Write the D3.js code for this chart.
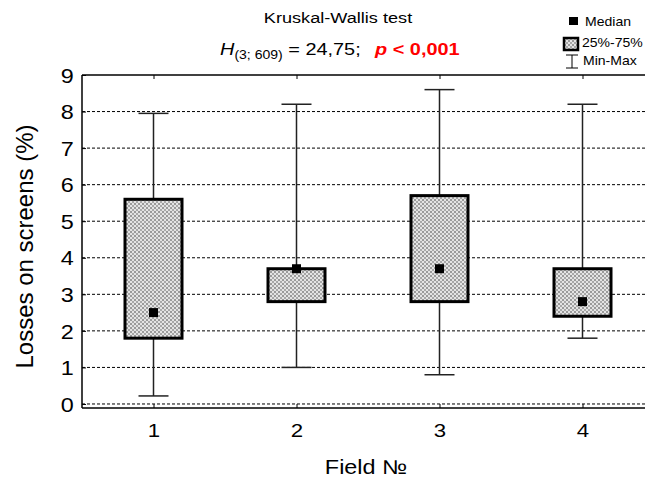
<!DOCTYPE html>
<html>
<head>
<meta charset="utf-8">
<script src="https://cdn.jsdelivr.net/npm/d3@7"></script>
<style>
  body { margin: 0; background: #fff; }
  svg { font-family: "Liberation Sans", Arial, sans-serif; display: block; }
</style>
</head>
<body>
<svg id="chart" width="645" height="480"></svg>
<script>
// box plot values
const fields = ['1', '2', '3', '4'];
const minVals = [0.22, 1.0, 0.8, 1.8];
const q1Vals = [1.8, 2.8, 2.8, 2.4];
const medians = [2.5, 3.7, 3.7, 2.8];
const q3Vals = [5.6, 3.7, 5.7, 3.7];
const maxVals = [7.95, 8.2, 8.6, 8.2];
const yTicks = [0, 1, 2, 3, 4, 5, 6, 7, 8, 9];

const data = fields.map((f, i) => ({
    field: f, min: minVals[i], q1: q1Vals[i], med: medians[i], q3: q3Vals[i], max: maxVals[i]
}));

const margin = { top: 75, left: 82 },
    plotW = 572,   // runs past the right edge of the picture, as in the original
    plotH = 333;

// the original text is a bit wider than normal Arial
const stretch = 1.17;

const svg = d3.select('#chart');

// gray texture for the boxes
const pat = svg.append('defs').append('pattern')
    .attr('id', 'dots')
    .attr('width', 4).attr('height', 4)
    .attr('patternUnits', 'userSpaceOnUse');
pat.append('rect').attr('width', 4).attr('height', 4).attr('fill', '#e4e4e4');
pat.append('rect').attr('width', 2).attr('height', 2).attr('fill', '#9a9a9a');
pat.append('rect').attr('x', 2).attr('y', 2).attr('width', 2).attr('height', 2).attr('fill', '#a8a8a8');

const g = svg.append('g')
    .attr('transform', 'translate(' + margin.left + ',' + margin.top + ')');

const x = d3.scalePoint()
    .domain(fields)
    .range([0, plotW])
    .padding(0.5);

const y = d3.scaleLinear()
    .domain([-0.11, 9])
    .range([plotH, 0]);

// dashed grid lines
g.selectAll('.grid')
    .data(yTicks.filter(t => t < 9))
    .enter()
    .append('line')
    .attr('x1', 0).attr('x2', plotW)
    .attr('y1', d => y(d)).attr('y2', d => y(d))
    .attr('stroke', '#000')
    .attr('stroke-width', 1)
    .attr('stroke-dasharray', '3,2');

// y axis
const yAxis = g.append('g')
    .call(d3.axisLeft(y).tickValues(yTicks).tickSize(-4).tickPadding(7));
yAxis.select('.domain').remove();
yAxis.selectAll('text').attr('font-size', '20px').attr('fill', '#000').attr('dy', '0.36em')
    .attr('transform', 'scale(' + stretch + ',1)');
yAxis.selectAll('line').attr('stroke', '#000');

// x axis bottom (ticks pointing inward)
const xAxis = g.append('g')
    .attr('transform', 'translate(0,' + plotH + ')')
    .call(d3.axisBottom(x).tickSize(-4).tickPadding(12));
xAxis.select('.domain').remove();
xAxis.selectAll('text').attr('font-size', '19px').attr('fill', '#000').attr('dy', '0.9em')
    .attr('transform', 'scale(' + stretch + ',1)');
xAxis.selectAll('line').attr('stroke', '#000');

// top ticks
g.append('g')
    .call(d3.axisTop(x).tickSize(-4).tickFormat(''))
    .call(a => a.select('.domain').remove())
    .selectAll('line').attr('stroke', '#000');

// frame
g.append('line').attr('x1', 0).attr('x2', plotW).attr('y1', 0).attr('y2', 0)
    .attr('stroke', '#000').attr('stroke-width', 1.5);
g.append('line').attr('x1', 0).attr('x2', plotW).attr('y1', plotH).attr('y2', plotH)
    .attr('stroke', '#000').attr('stroke-width', 1.5);
g.append('line').attr('x1', 0).attr('x2', 0).attr('y1', 0).attr('y2', plotH)
    .attr('stroke', '#000').attr('stroke-width', 1.5);

const boxW = 57, capW = 30, medS = 9;

const boxes = g.selectAll('.box')
    .data(data)
    .enter()
    .append('g')
    .attr('class', 'box');

// whisker
boxes.append('line')
    .attr('x1', d => x(d.field)).attr('x2', d => x(d.field))
    .attr('y1', d => y(d.min)).attr('y2', d => y(d.max))
    .attr('stroke', '#222').attr('stroke-width', 1.5);
boxes.append('line')
    .attr('x1', d => x(d.field) - capW / 2).attr('x2', d => x(d.field) + capW / 2)
    .attr('y1', d => y(d.max)).attr('y2', d => y(d.max))
    .attr('stroke', '#222').attr('stroke-width', 1.5);
boxes.append('line')
    .attr('x1', d => x(d.field) - capW / 2).attr('x2', d => x(d.field) + capW / 2)
    .attr('y1', d => y(d.min)).attr('y2', d => y(d.min))
    .attr('stroke', '#222').attr('stroke-width', 1.5);

// interquartile box
boxes.append('rect')
    .attr('x', d => x(d.field) - boxW / 2)
    .attr('y', d => y(d.q3))
    .attr('width', boxW)
    .attr('height', d => y(d.q1) - y(d.q3))
    .attr('fill', 'url(#dots)')
    .attr('stroke', '#000')
    .attr('stroke-width', 3);

// median
boxes.append('rect')
    .attr('x', d => x(d.field) - medS / 2)
    .attr('y', d => y(d.med) - medS / 2)
    .attr('width', medS).attr('height', medS)
    .attr('fill', '#000');

// horizontally stretched text helper
function wideText(px, py) {
    return svg.append('g')
        .attr('transform', 'translate(' + px + ',' + py + ') scale(' + stretch + ',1)')
        .append('text');
}

// axis labels
svg.append('text')
    .attr('transform', 'translate(33,' + (margin.top + plotH / 2 + 5) + ') rotate(-90)')
    .attr('text-anchor', 'middle')
    .attr('font-size', '24px')
    .text('Losses on screens (%)');

wideText(366, 474)
    .attr('text-anchor', 'middle')
    .attr('font-size', '20px')
    .text('Field №');

// title
wideText(338, 23)
    .attr('text-anchor', 'middle')
    .attr('font-size', '15.5px')
    .text('Kruskal-Wallis test');

const sub = wideText(220, 55)
    .attr('font-size', '17px');
sub.append('tspan').attr('font-style', 'italic').text('H');
sub.append('tspan').attr('font-size', '12px').attr('dy', 4).text('(3; 609)');
sub.append('tspan').attr('dy', -4).text(' = 24,75;');
sub.append('tspan').attr('x', (375 - 220) / stretch).attr('font-weight', 'bold').attr('fill', '#f00')
    .attr('font-style', 'italic').text('p');
sub.append('tspan').attr('font-weight', 'bold').attr('fill', '#f00').text(' < 0,001');

// legend
svg.append('rect').attr('x', 569).attr('y', 17).attr('width', 9).attr('height', 8).attr('fill', '#000');
wideText(585, 26).attr('font-size', '12px').text('Median');
svg.append('rect').attr('x', 564).attr('y', 38).attr('width', 14).attr('height', 12)
    .attr('fill', 'url(#dots)').attr('stroke', '#000').attr('stroke-width', 2.5);
wideText(582, 47).attr('font-size', '12px').text('25%-75%');
svg.append('line').attr('x1', 572).attr('x2', 572).attr('y1', 55).attr('y2', 68).attr('stroke', '#000');
svg.append('line').attr('x1', 566).attr('x2', 578).attr('y1', 55).attr('y2', 55).attr('stroke', '#000');
svg.append('line').attr('x1', 566).attr('x2', 578).attr('y1', 68).attr('y2', 68).attr('stroke', '#000');
wideText(583, 65).attr('font-size', '12px').text('Min-Max');
</script>
</body>
</html>
